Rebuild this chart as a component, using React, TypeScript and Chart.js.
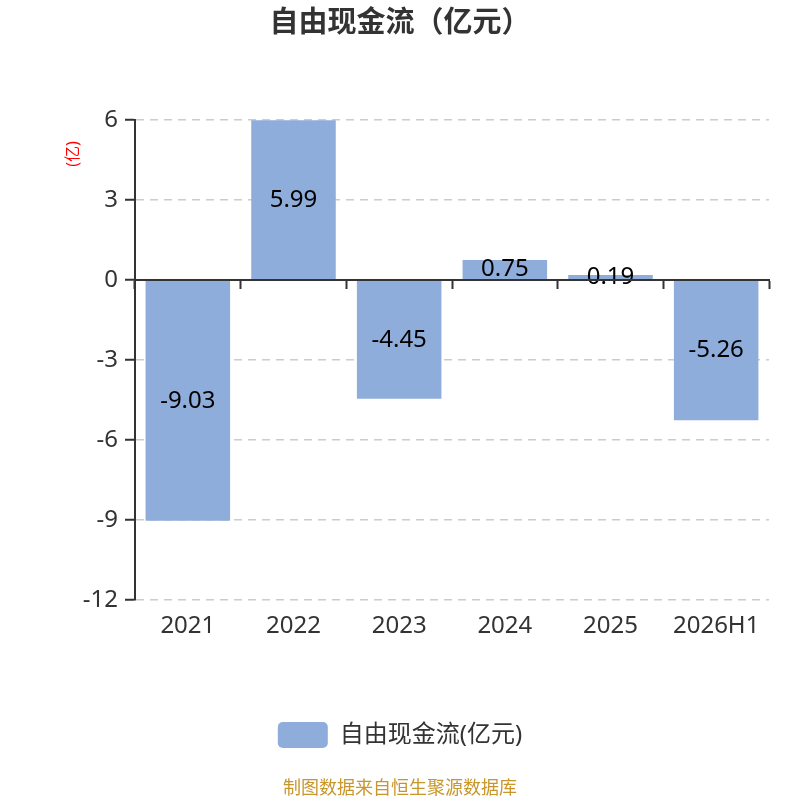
import React, { useRef, useEffect } from 'react';
import { Chart, registerables, Plugin } from 'chart.js';
Chart.register(...registerables);

const categories = ['2021', '2022', '2023', '2024', '2025', '2026H1'];
const freeCashFlow = [-9.03, 5.99, -4.45, 0.75, 0.19, -5.26];
const seriesName = '自由现金流(亿元)';
const chartTitle = '自由现金流（亿元）';
const unitLabel = '(亿)';
const sourceNote = '制图数据来自恒生聚源数据库';

const FONT = "'Noto Sans', 'Noto Sans CJK SC', sans-serif";

// draws the value in the middle of every bar
const barLabels: Plugin<'bar'> = {
  id: 'barLabels',
  afterDatasetsDraw(chart) {
    const ctx = chart.ctx;
    const meta = chart.getDatasetMeta(0);
    ctx.save();
    ctx.font = `24px ${FONT}`;
    ctx.fillStyle = '#000';
    ctx.textAlign = 'center';
    ctx.textBaseline = 'middle';
    meta.data.forEach((bar: any, i) => {
      const { x, y, base } = bar.getProps(['x', 'y', 'base'], true);
      ctx.fillText(String(freeCashFlow[i]), x, (y + base) / 2);
    });
    ctx.restore();
  },
};

// small red unit text at the top left of the value axis
const unitText: Plugin<'bar'> = {
  id: 'unitText',
  afterDraw(chart) {
    const ctx = chart.ctx;
    ctx.save();
    ctx.translate(73, 154);
    ctx.rotate(-Math.PI / 2);
    ctx.font = `16px ${FONT}`;
    ctx.fillStyle = '#ff0000';
    ctx.textAlign = 'center';
    ctx.textBaseline = 'middle';
    ctx.fillText(unitLabel, 0, 0);
    ctx.restore();
  },
};

const App: React.FC = () => {
  const chartRef = useRef<HTMLCanvasElement | null>(null);
  const chartInstance = useRef<Chart | null>(null);

  useEffect(() => {
    if (chartInstance.current) {
      chartInstance.current.destroy();
    }
    const myChartRef = chartRef.current?.getContext('2d');
    if (myChartRef) {
      chartInstance.current = new Chart(myChartRef, {
        type: 'bar',
        data: {
          labels: categories,
          datasets: [
            {
              label: seriesName,
              data: freeCashFlow,
              backgroundColor: '#8eaddb',
              borderWidth: 0,
              categoryPercentage: 0.8,
              barPercentage: 1,
            },
          ],
        },
        options: {
          responsive: false,
          animation: false,
          layout: { padding: 0 },
          scales: {
            x: {
              position: 'bottom',
              grid: { display: false, drawTicks: false },
              border: { display: false },
              ticks: { font: { size: 24, family: FONT }, color: '#333', padding: 12 },
              afterFit: (s: any) => { s.height = 112; },
            },
            x2: {
              type: 'category',
              axis: 'x',
              position: { y: 0 },
              offset: true,
              grid: {
                offset: true,
                drawOnChartArea: false,
                drawTicks: true,
                tickLength: 8,
                tickColor: '#333',
                tickWidth: 2,
              },
              border: { display: true, color: '#333', width: 2, z: 1 },
              ticks: { display: false },
            },
            y: {
              position: 'left',
              min: -12,
              max: 6,
              ticks: { stepSize: 3, font: { size: 24, family: FONT }, color: '#333', padding: 7 },
              grid: { color: '#cccccc', lineWidth: 1.5, tickColor: '#333', tickWidth: 2, tickLength: 10 },
              border: { display: true, color: '#333', width: 2, dash: [8, 6] },
              afterFit: (s: any) => { s.width = 135; },
            },
            yr: {
              type: 'linear',
              position: 'right',
              grid: { display: false, drawTicks: false },
              border: { display: false },
              ticks: { display: false },
              afterFit: (s: any) => { s.width = 31; },
            },
          },
          plugins: {
            title: {
              display: true,
              text: chartTitle,
              color: '#333',
              font: { size: 29, weight: 'bold', family: FONT },
              padding: { top: 6.1, bottom: 79.1 },
            },
            legend: {
              display: true,
              position: 'bottom',
              labels: {
                boxWidth: 50,
                boxHeight: 26,
                useBorderRadius: true,
                borderRadius: 5,
                color: '#333',
                font: { size: 24, family: FONT },
                padding: 10,
              },
            },
            subtitle: {
              display: true,
              position: 'bottom',
              text: sourceNote,
              color: '#c8962a',
              font: { size: 18, family: FONT },
              padding: { top: 20.4, bottom: 0 },
            },
            tooltip: { enabled: false },
          },
        },
        plugins: [barLabels, unitText],
      });
    }
    return () => {
      if (chartInstance.current) {
        chartInstance.current.destroy();
      }
    };
  }, []);

  return (
    <div style={{ position: 'fixed', left: 0, top: 0, width: 800, height: 800, background: '#fff' }}>
      <canvas ref={chartRef} width={800} height={800} />
    </div>
  );
};

export default App;
